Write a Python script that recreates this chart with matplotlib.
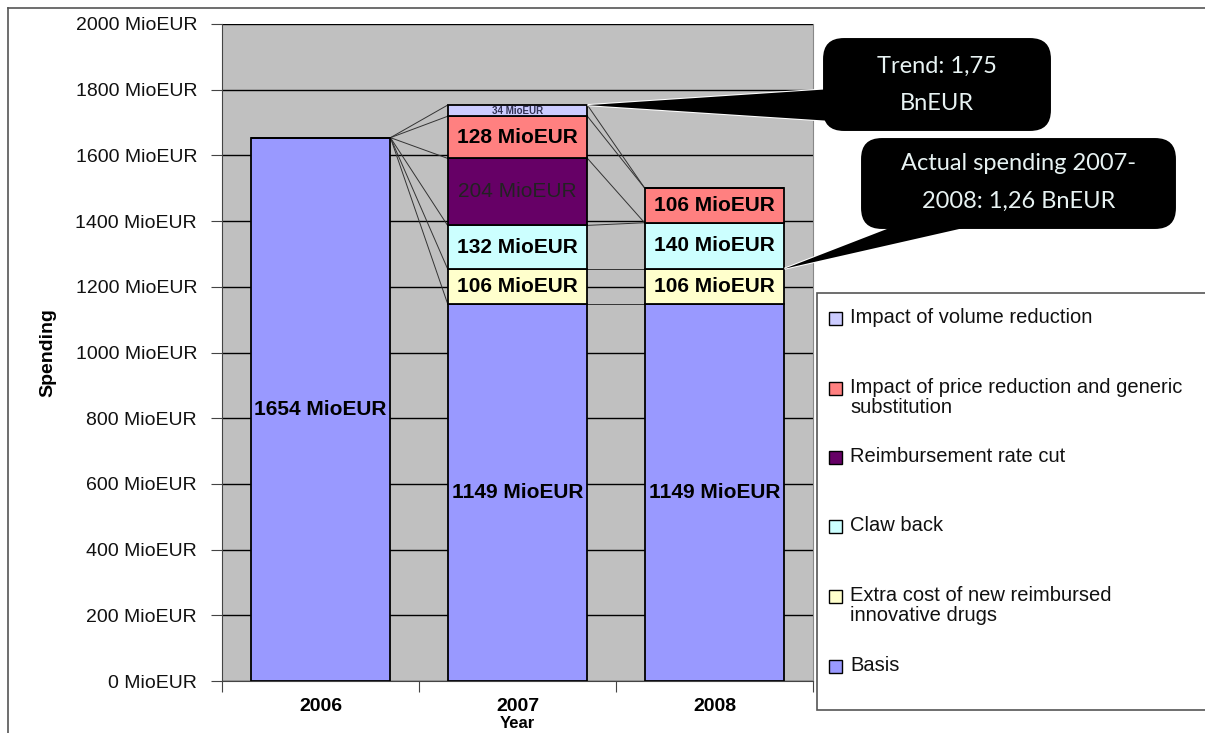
import numpy as np
import matplotlib.pyplot as plt
from matplotlib.patches import FancyBboxPatch, Polygon, Rectangle

years = ["2006", "2007", "2008"]
series = [
    "Basis",
    "Extra cost of new reimbursed\ninnovative drugs",
    "Claw back",
    "Reimbursement rate cut",
    "Impact of price reduction and generic\nsubstitution",
    "Impact of volume reduction",
]
basis = [1654, 1149, 1149]
extra_cost = [0, 106, 106]
claw_back = [0, 132, 140]
rate_cut = [0, 204, 0]
price_reduction = [0, 128, 106]
volume_reduction = [0, 34, 0]
colors = ["#9999FF", "#FFFFCC", "#CCFFFF", "#660066", "#FF8080", "#CCCCFF"]
yticks = [0, 200, 400, 600, 800, 1000, 1200, 1400, 1600, 1800, 2000]

trend_text = "Trend: 1,75\nBnEUR"
actual_text = "Actual spending 2007-\n2008: 1,26 BnEUR"

plt.rcParams["font.family"] = ["Liberation Sans", "DejaVu Sans"]

W, H = 1205, 733
fig = plt.figure(figsize=(W / 100, H / 100), dpi=100)
ax = fig.add_axes([222 / W, 1 - 681 / H, 591 / W, 657 / H])
ax.set_facecolor("#C0C0C0")

data = np.array([basis, extra_cost, claw_back, rate_cut, price_reduction, volume_reduction])
x = np.arange(len(years))
bw = 0.71
bottoms = np.zeros(len(years))
tops = np.cumsum(data, axis=0)

for i, vals in enumerate(data):
    ax.bar(x, vals, bw, bottom=bottoms, color=colors[i], edgecolor="black",
           linewidth=1.3, zorder=3)
    for j, v in enumerate(vals):
        if v == 0:
            continue
        yc = bottoms[j] + v / 2
        if v < 60:
            ax.text(x[j], yc, f"{v} MioEUR", ha="center", va="center",
                    fontsize=7, fontweight="bold", color="#333355", zorder=5)
        elif i == 3:
            ax.text(x[j], yc, f"{v} MioEUR", ha="center", va="center",
                    fontsize=15, color="#222222", zorder=5)
        else:
            ax.text(x[j], yc, f"{v} MioEUR", ha="center", va="center",
                    fontsize=15, fontweight="bold", color="black", zorder=5)
    bottoms += vals

# series lines between neighbouring bars
for i in range(len(series)):
    for j in range(len(years) - 1):
        ax.plot([x[j] + bw / 2, x[j + 1] - bw / 2], [tops[i, j], tops[i, j + 1]],
                color="#333333", linewidth=0.7, zorder=2)

ax.set_xlim(-0.5, 2.5)
ax.set_ylim(0, 2000)
ax.set_yticks(yticks)
ax.set_yticklabels([f"{v} MioEUR" for v in yticks], fontsize=14, color="#111111")
ax.yaxis.grid(True, color="black", linewidth=1.0, zorder=1)
ax.set_axisbelow(True)
ax.set_xticks([-0.5, 0.5, 1.5, 2.5])
ax.set_xticklabels([])
ax.set_xticks(x, minor=True)
ax.set_xticklabels(years, minor=True, fontsize=14, fontweight="bold")
ax.tick_params(axis="x", which="minor", length=0, pad=12)
ax.tick_params(axis="x", which="major", length=8, direction="out", color="#444444")
ax.tick_params(axis="y", length=8, direction="out", pad=10, color="#444444")
ax.spines["top"].set_visible(False)
ax.spines["right"].set_color("#888888")
ax.spines["left"].set_color("#444444")
ax.spines["bottom"].set_color("#444444")
ax.set_ylabel("Spending", fontsize=14, fontweight="bold", labelpad=14)
ax.set_xlabel("Year", fontsize=12, fontweight="bold", labelpad=1)

# overlay in pixel coordinates for frame, legend and callouts
ov = fig.add_axes([0, 0, 1, 1], zorder=10)
ov.set_xlim(0, W)
ov.set_ylim(H, 0)
ov.axis("off")
ov.patch.set_alpha(0)

ov.plot([8, W], [8, 8], color="#555555", linewidth=1.2)
ov.plot([8, 8], [8, H], color="#555555", linewidth=1.2)


def to_px(xd, yd):
    px, py = ax.transData.transform((xd, yd))
    return px, H - py


# legend box
ov.add_patch(Rectangle((817, 293), 420, 417, facecolor="white", edgecolor="#555555",
                       linewidth=1.2))
legend_rows = [318, 388, 457, 526, 596, 666]
for k, ypos in enumerate(legend_rows):
    idx = len(series) - 1 - k
    ov.add_patch(Rectangle((829, ypos - 6.5), 13, 13, facecolor=colors[idx],
                           edgecolor="black", linewidth=1.0))
    ov.text(850, ypos - 10, series[idx], fontsize=14.5, color="#111111",
            ha="left", va="top", linespacing=1.05)


def callout(box, tip, base, text, lines_y):
    x0, y0, w, h = box
    poly_pts = [base[0], tip, base[1]]
    ov.add_patch(Polygon(poly_pts, closed=True, facecolor="black", edgecolor="white",
                         linewidth=1.5))
    ov.add_patch(FancyBboxPatch((x0, y0), w, h,
                                boxstyle="round,pad=0,rounding_size=22",
                                facecolor="black", edgecolor="white", linewidth=1.5))
    ov.add_patch(Polygon(poly_pts, closed=True, facecolor="black", edgecolor="none"))
    cx = x0 + w / 2
    for line, ly in zip(text.split("\n"), lines_y):
        ov.text(cx, ly, line, ha="center", va="center", fontsize=17,
                color="#E8F3F3", family=["Lato", "DejaVu Sans"])


trend_tip = to_px(x[1] + bw / 2, tops[-1, 1])
callout((822, 37, 230, 95), trend_tip, [(832, 89), (832, 121)], trend_text, [66, 104])

actual_tip = to_px(x[2] + bw / 2, tops[1, 2])
callout((860, 137, 317, 93), actual_tip, [(905, 222), (990, 222)], actual_text, [164, 201])

fig.savefig("out.png", dpi=100)
